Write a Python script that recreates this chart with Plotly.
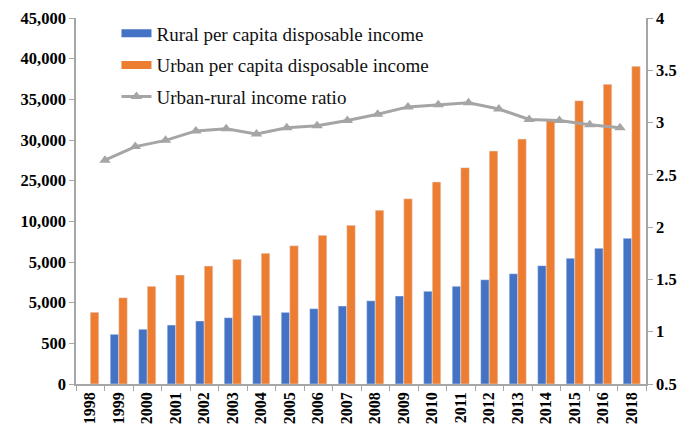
import plotly.graph_objects as go

years = ["1998", "1999", "2000", "2001", "2002", "2003", "2004", "2005", "2006", "2007",
         "2008", "2009", "2010", "2011", "2012", "2013", "2014", "2015", "2016", "2018"]
rural = [None, 6110, 6730, 7250, 7750, 8150, 8440, 8810, 9260, 9590,
         10230, 10820, 11400, 12010, 12820, 13560, 14550, 15460, 16690, 17910]
urban = [8820, 10610, 12010, 13400, 14510, 15330, 16070, 17000, 18280, 19510,
         21370, 22780, 24840, 26600, 28650, 30120, 32460, 34830, 36850, 39060]
ratio_years = [1999, 2000, 2001, 2002, 2003, 2004, 2005, 2006, 2007, 2008,
               2009, 2010, 2011, 2012, 2013, 2014, 2015, 2016]
ratio = [2.64, 2.77, 2.83, 2.92, 2.94, 2.89, 2.95, 2.97, 3.02, 3.08,
         3.15, 3.17, 3.19, 3.13, 3.03, 3.02, 2.98, 2.95]
left_tickvals = [0, 5000, 10000, 15000, 20000, 25000, 30000, 35000, 40000, 45000]
left_ticktext = ["0", "500", "5,000", "5,000", "10,000", "25,000", "30,000", "35,000", "40,000", "45,000"]
right_tickvals = [0.5, 1, 1.5, 2, 2.5, 3, 3.5, 4]
right_ticktext = ["0.5", "1", "1.5", "2", "2.5", "3", "3.5", "4"]

names = ["Rural per capita disposable income", "Urban per capita disposable income",
         "Urban-rural income ratio"]
BLUE = "#4472C4"
ORANGE = "#ED7D31"
GRAY = "#A5A5A5"
AXIS = "#A6A6A6"
SERIF = "Liberation Serif, Times New Roman, serif"

fig = go.Figure()
fig.add_trace(go.Bar(x=years, y=rural, marker_color=BLUE, showlegend=False, name=names[0]))
fig.add_trace(go.Bar(x=years, y=urban, marker_color=ORANGE, showlegend=False, name=names[1]))
fig.add_trace(go.Scatter(x=ratio_years, y=ratio, xaxis="x2", yaxis="y2", mode="lines+markers",
                         line=dict(color=GRAY, width=3), marker=dict(symbol="triangle-up", size=10, color=GRAY),
                         showlegend=False, name=names[2]))
# legend entries
fig.add_trace(go.Scatter(x=[None], y=[None], mode="lines", line=dict(color=BLUE, width=8),
                         name=names[0], legendgroup="a"))
fig.add_trace(go.Scatter(x=[None], y=[None], mode="lines", line=dict(color=ORANGE, width=8),
                         name=names[1], legendgroup="b"))
fig.add_trace(go.Scatter(x=[None], y=[None], mode="lines+markers", line=dict(color=GRAY, width=3),
                         marker=dict(symbol="triangle-up", size=10, color=GRAY),
                         name=names[2], legendgroup="c"))

fig.update_layout(
    width=684, height=428,
    margin=dict(l=76, r=38, t=18, b=44, autoexpand=False),
    paper_bgcolor="white", plot_bgcolor="white",
    barmode="group", bargap=0.4, bargroupgap=0,
    font=dict(family=SERIF, color="black"),
    xaxis=dict(type="category", tickangle=-90, tickfont=dict(size=16, family=SERIF, weight="bold"),
               showline=True, linecolor=AXIS, linewidth=1.5, ticks="outside", ticklen=5,
               tickcolor=AXIS, tickson="boundaries", showgrid=False, automargin=False),
    xaxis2=dict(overlaying="x", range=[1998.043, 2016.858], visible=False),
    yaxis=dict(range=[0, 45000], tickvals=left_tickvals, ticktext=left_ticktext,
               tickfont=dict(size=16.5, family=SERIF, weight="bold"), automargin=False,
               showline=True, linecolor=AXIS, linewidth=1.5, ticks="outside", ticklen=5,
               tickcolor=AXIS, showgrid=False, zeroline=False),
    yaxis2=dict(range=[0.5, 4], tickvals=right_tickvals, ticktext=right_ticktext, overlaying="y", side="right",
                tickfont=dict(size=16.5, family=SERIF, weight="bold"), automargin=False,
                showline=True, linecolor=AXIS, linewidth=1.5, ticks="outside", ticklen=5,
                tickcolor=AXIS, showgrid=False, zeroline=False),
    legend=dict(x=0.071, y=1.01, xanchor="left", yanchor="top", bgcolor="rgba(0,0,0,0)",
                font=dict(size=19, family=SERIF, color="#111"), tracegroupgap=4, itemwidth=30),
)

fig.write_html("out.html", config={"displayModeBar": False},
               post_script="document.body.style.margin='0';document.body.style.overflow='hidden';")
